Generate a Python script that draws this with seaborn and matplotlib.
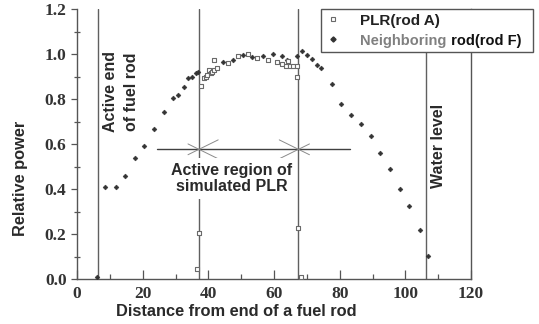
import numpy as np
import pandas as pd
import matplotlib
matplotlib.use("Agg")
import matplotlib.pyplot as plt
from matplotlib.lines import Line2D
from matplotlib.ticker import MultipleLocator
from matplotlib.transforms import IdentityTransform
import seaborn as sns

# Simulated PLR rod (rod A): distance from end of rod vs relative power
plr_x = [36.5, 37.2, 37.8, 38.7, 39.2, 39.7, 40.3, 40.7, 41.0, 41.7, 41.8, 42.7,
         46.1, 48.9, 52.2, 54.9, 58.3, 61.0, 62.3, 63.7, 64.4, 64.9, 65.9, 66.9,
         67.1, 67.4, 68.1]
plr_y = [0.044, 0.204, 0.860, 0.894, 0.897, 0.908, 0.931, 0.915, 0.921, 0.927, 0.974, 0.939,
         0.959, 0.993, 1.000, 0.981, 0.974, 0.964, 0.955, 0.949, 0.968, 0.949, 0.949, 0.949,
         0.900, 0.226, 0.009]

# Neighboring rod (rod F)
nb_x = [6.0, 8.6, 11.8, 14.5, 17.7, 20.4, 23.5, 26.6, 29.3, 30.9, 32.6, 33.9, 35.0, 36.2, 37.0,
        44.6, 47.6, 50.5, 53.4, 56.6, 59.8, 62.3, 64.1, 67.1, 68.4, 70.1, 71.5, 73.0, 74.3,
        77.6, 80.3, 83.4, 86.4, 89.4, 92.4, 95.3, 98.4, 101.2, 104.5, 107.0]
nb_y = [0.010, 0.410, 0.410, 0.459, 0.539, 0.592, 0.667, 0.744, 0.804, 0.819, 0.855, 0.893, 0.900, 0.915, 0.922,
        0.966, 0.974, 0.998, 0.986, 0.990, 1.000, 0.990, 0.974, 0.993, 1.012, 0.996, 0.979, 0.952, 0.937,
        0.865, 0.779, 0.728, 0.690, 0.636, 0.562, 0.491, 0.403, 0.326, 0.218, 0.105]

x_ticks = [0, 20, 40, 60, 80, 100, 120]
y_ticks = [0.0, 0.2, 0.4, 0.6, 0.8, 1.0, 1.2]
y_tick_labels = ["0.0", "0.2", "0.4", "0.6", "0.8", "1.0", "1.2"]

# Reference positions along the rod
active_end_x = 6.5
plr_start_x = 37.2
plr_end_x = 67.4
water_level_x = 106.4
region_y = 0.577
region_line_x = (24.3, 83.2)

sns.set_theme(style="ticks")
plt.rcParams["font.family"] = ["Liberation Sans", "DejaVu Sans"]

W, H = 539, 324
fig = plt.figure(figsize=(W / 100, H / 100), dpi=100)
ax = fig.add_axes([77 / W, 1 - 279.3 / H, 394 / W, 270.3 / H])

df_plr = pd.DataFrame({"distance": plr_x, "power": plr_y})
df_nb = pd.DataFrame({"distance": nb_x, "power": nb_y})

sns.scatterplot(data=df_nb, x="distance", y="power", marker="D", s=6,
                color="#333333", edgecolor="#333333", linewidth=0.4, ax=ax, zorder=4)
sns.scatterplot(data=df_plr, x="distance", y="power", marker="s", s=10,
                color="white", edgecolor="#6a6a6a", linewidth=0.8, ax=ax, zorder=5)

line_kw = dict(color="#606060", lw=1.0, zorder=1)
for xv in (active_end_x, plr_start_x, plr_end_x, water_level_x):
    ax.axvline(xv, **line_kw)

# Horizontal bracket for the simulated region, with crossed open arrowheads
ax.plot(region_line_x, (region_y, region_y), color="#404040", lw=1.0, zorder=2)
def cross(xc, direction):
    far, near = 5.8, 3.4
    dy_far, dy_near = 0.042, 0.024
    for s in (1, -1):
        ax.plot([xc - direction * near, xc + direction * far],
                [region_y + s * dy_near, region_y - s * dy_far],
                color="#8a8a8a", lw=0.7, zorder=2)
cross(plr_start_x, 1)
cross(plr_end_x, -1)

txt_kw = dict(fontweight="bold", fontsize=11.5, color="#2a2a2a")
ax.text(13.4, 0.834, "Active end\nof fuel rod", rotation=90, ha="center", va="center",
        linespacing=1.45, **txt_kw)
ax.text(47.1, 0.449, "Active region of\nsimulated PLR", ha="center", va="center",
        linespacing=1.1, zorder=3,
        bbox=dict(boxstyle="square,pad=0.3", fc="white", ec="none"), **txt_kw)
ax.text(110.2, 0.59, "Water level", rotation=90, ha="center", va="center", **txt_kw)

ax.set_xlim(0, 120)
ax.set_ylim(0, 1.2)
ax.set_xticks(x_ticks)
ax.set_xticklabels([str(v) for v in x_ticks])
ax.set_yticks(y_ticks)
ax.set_yticklabels(y_tick_labels)
ax.xaxis.set_minor_locator(MultipleLocator(10))
ax.yaxis.set_minor_locator(MultipleLocator(0.1))
ax.tick_params(axis="x", which="major", direction="in", length=6.5, width=0.9, color="#555", pad=5)
ax.tick_params(axis="x", which="minor", direction="in", length=3.5, width=0.9, color="#555")
ax.tick_params(axis="y", which="major", direction="out", length=4.5, width=0.9, color="#555", pad=3)
ax.tick_params(axis="y", which="minor", direction="inout", length=4, width=0.9, color="#555")
for lab in ax.get_xticklabels() + ax.get_yticklabels():
    lab.set_fontfamily(["Liberation Serif", "DejaVu Serif"])
    lab.set_fontweight("bold")
    lab.set_fontsize(12.5)
    lab.set_color("#333333")

for side in ("left", "bottom", "right"):
    ax.spines[side].set_color("#555555")
    ax.spines[side].set_linewidth(1.0)
ax.spines["top"].set_visible(False)

ax.set_xlabel("Distance from end of a fuel rod", fontweight="bold", fontsize=11.8, color="#2a2a2a")
ax.set_ylabel("Relative power", fontweight="bold", fontsize=11.8, color="#2a2a2a")
ax.xaxis.set_label_coords(0.405, -0.09)
ax.yaxis.set_label_coords(-0.125, 0.375)

handles = [
    Line2D([], [], marker="s", ls="", mfc="white", mec="#6a6a6a", mew=0.8, ms=3.4),
    Line2D([], [], marker="D", ls="", color="#333333", ms=2.6),
]
labels = ["PLR(rod A)", "Neighboring rod(rod F)"]
leg_size = 11
leg = fig.legend(handles, labels, loc="upper left",
                 bbox_to_anchor=(320.7 / W, 1 - 9 / H), bbox_transform=fig.transFigure,
                 frameon=True, fancybox=False, framealpha=1, edgecolor="#555555",
                 borderpad=0.3, labelspacing=0.4, handlelength=1.0, handletextpad=1.3,
                 borderaxespad=0, prop={"weight": "bold", "size": leg_size})
leg.get_frame().set_linewidth(1.0)
leg.get_texts()[0].set_color("#222222")

# Second legend entry: "Neighboring" in gray, "rod(rod F)" in black
fig.canvas.draw()
t2 = leg.get_texts()[1]
t2.set_alpha(0)
bx, by = t2.get_transform().transform(t2.get_position())
part1 = fig.text(bx, by, "Neighboring", transform=IdentityTransform(), ha="left", va="baseline",
                 fontweight="bold", fontsize=leg_size - 0.5, color="#808080", zorder=10)
fig.canvas.draw()
ext = part1.get_window_extent()
fig.text(ext.x1, by, " rod(rod F)", transform=IdentityTransform(), ha="left", va="baseline",
         fontweight="bold", fontsize=leg_size - 0.5, color="#111111", zorder=10)

fig.savefig("out.png", dpi=100)
